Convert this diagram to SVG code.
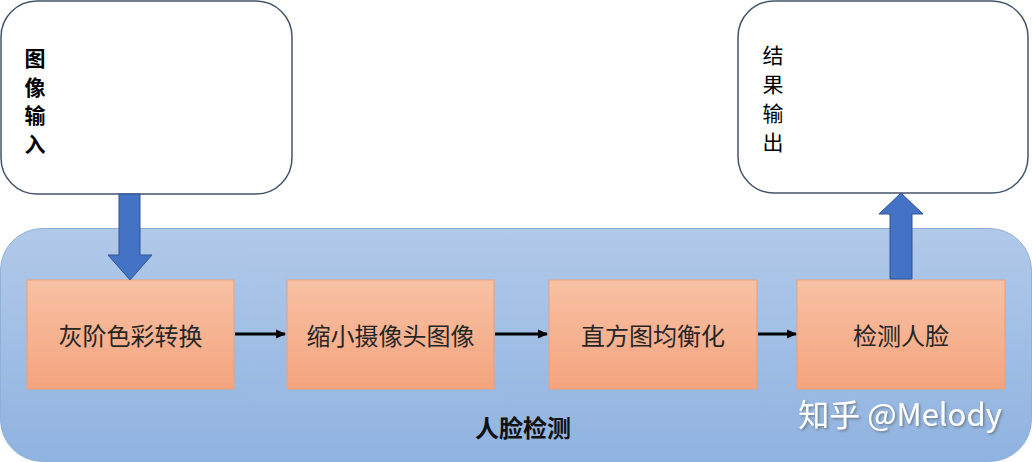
<svg xmlns="http://www.w3.org/2000/svg" width="1032" height="462" viewBox="0 0 1032 462">
<defs>
<linearGradient id="gBlue" x1="0" y1="0" x2="0" y2="1">
<stop offset="0" stop-color="#b1c9e9"/>
<stop offset="1" stop-color="#8fb3e0"/>
</linearGradient>
<linearGradient id="gOrange" x1="0" y1="0" x2="0" y2="1">
<stop offset="0" stop-color="#f8c1a4"/>
<stop offset="1" stop-color="#f4a47e"/>
</linearGradient>
<marker id="ah" markerWidth="10" markerHeight="10" refX="9" refY="5" orient="auto" markerUnits="userSpaceOnUse">
<path d="M0,0.5 L10,5 L0,9.5 Z" fill="#000"/>
</marker>
<filter id="sh" x="-10%" y="-20%" width="120%" height="140%">
<feDropShadow dx="1.5" dy="1.5" stdDeviation="1" flood-color="#555" flood-opacity="0.6"/>
</filter>
</defs>
<style>
.io{fill:#fff;stroke:#44546a;stroke-width:1.5}
.step{fill:url(#gOrange);stroke:#e9a07c;stroke-width:1}
.lbl{font-family:"Noto Sans CJK SC","Liberation Sans",sans-serif;font-size:24px;fill:#262626;text-anchor:middle;dominant-baseline:central}
.vt{font-family:"Noto Sans CJK SC","Liberation Sans",sans-serif;font-size:21px;fill:#000;text-anchor:middle;dominant-baseline:central}
.blk{fill:#4472c4;stroke:#2f5597;stroke-width:1}
.con{stroke:#000;stroke-width:3;fill:none;marker-end:url(#ah)}
</style>
<g id="container">
<rect x="0.5" y="228.5" width="1031" height="233" rx="42" fill="url(#gBlue)" stroke="#8fb0d8" stroke-width="1"/>
<text x="523" y="426" class="lbl" font-weight="bold" style="fill:#111">人脸检测</text>
</g>
<g id="input">
<rect x="1" y="1" width="291" height="193" rx="36" class="io"/>
<text class="vt" font-weight="bold" x="35" y="57">图</text>
<text class="vt" font-weight="bold" x="35" y="85.5">像</text>
<text class="vt" font-weight="bold" x="35" y="114">输</text>
<text class="vt" font-weight="bold" x="35" y="142.5">入</text>
</g>
<g id="output">
<rect x="738" y="1" width="290" height="192" rx="36" class="io"/>
<text class="vt" x="773" y="54">结</text>
<text class="vt" x="773" y="83">果</text>
<text class="vt" x="773" y="112">输</text>
<text class="vt" x="773" y="141">出</text>
</g>
<g id="step1">
<rect x="27" y="280" width="207" height="109" class="step"/>
<text class="lbl" x="130.5" y="334">灰阶色彩转换</text>
</g>
<g id="step2">
<rect x="287" y="280" width="207" height="109" class="step"/>
<text class="lbl" x="390.5" y="334">缩小摄像头图像</text>
</g>
<g id="step3">
<rect x="549" y="280" width="208" height="109" class="step"/>
<text class="lbl" x="653" y="334">直方图均衡化</text>
</g>
<g id="step4">
<rect x="797" y="280" width="208" height="109" class="step"/>
<text class="lbl" x="901" y="334">检测人脸</text>
</g>
<g id="connectors">
<path class="blk" d="M119,194 H140 V255 H152 L130,280 L108,255 H119 Z"/>
<path class="blk" d="M890,279 V214 H879 L901,193 L923,214 H912 V279 Z"/>
<line class="con" x1="235" y1="334" x2="285" y2="334"/>
<line class="con" x1="495" y1="334" x2="547" y2="334"/>
<line class="con" x1="758" y1="334" x2="796" y2="334"/>
</g>
<text x="900" y="412" font-family="'Noto Sans CJK SC','Liberation Sans',sans-serif" font-size="31" fill="#fff" text-anchor="middle" dominant-baseline="central" filter="url(#sh)">知乎 @Melody</text>
</svg>
